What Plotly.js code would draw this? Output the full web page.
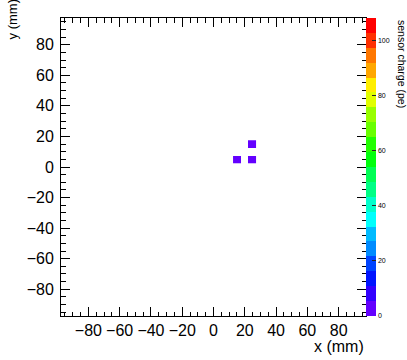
<!DOCTYPE html>
<html>
<head>
<meta charset="utf-8">
<script src="https://cdn.plot.ly/plotly-3.0.1.min.js"></script>
<style>html,body{margin:0;padding:0;background:#fff;}#chart{width:407px;height:360px;}</style>
</head>
<body>
<div id="chart"></div>
<script>
// Sensor hits (bin centres in mm) and their charge (pe)
const sensorX = [15, 25, 25];
const sensorY = [5, 5, 15];
const sensorCharge = [3, 3, 3];
const xTickVals = [-80, -60, -40, -20, 0, 20, 40, 60, 80];
const yTickVals = [-80, -60, -40, -20, 0, 20, 40, 60, 80];
const cbTickVals = [0, 20, 40, 60, 80, 100];
const chargeMax = 108;
const binWidth = 5;
const axisRange = [-97.5, 97.5];

// ROOT "pretty" palette, 20 contour levels
const nLevels = 20;
const bandColors = [];
for (let k = 0; k < nLevels; k++) {
  const idx = Math.floor((k + 0.99) * 50 / nLevels);
  const hue = idx >= 49 ? 0 : 280 - (idx + 1) * 5.6;
  bandColors.push('hsl(' + hue.toFixed(1) + ',100%,50%)');
}
const colorscale = [];
for (let k = 0; k < nLevels; k++) {
  colorscale.push([k / nLevels, bandColors[k]]);
  colorscale.push([(k + 1) / nLevels, bandColors[k]]);
}

// Build bin grid covering the hits
const xs = [...new Set(sensorX)].sort((a,b)=>a-b);
const ys = [...new Set(sensorY)].sort((a,b)=>a-b);
const xc = [], yc = [];
for (let v = xs[0]; v <= xs[xs.length-1]; v += binWidth) xc.push(v);
for (let v = ys[0]; v <= ys[ys.length-1]; v += binWidth) yc.push(v);
const z = yc.map(() => xc.map(() => null));
sensorX.forEach((x, i) => {
  z[yc.indexOf(sensorY[i])][xc.indexOf(x)] = sensorCharge[i];
});

const font = {family: 'Liberation Sans, Arial, sans-serif', color: '#000'};

const trace = {
  type: 'heatmap',
  x: xc, y: yc, z: z,
  zmin: 0, zmax: chargeMax,
  colorscale: colorscale,
  hoverongaps: false,
  colorbar: {
    x: 1.0, xanchor: 'left', xpad: 0,
    y: 0.5, yanchor: 'middle', ypad: 0,
    len: 1, lenmode: 'fraction',
    thickness: 10, outlinewidth: 0,
    tickmode: 'array', tickvals: cbTickVals,
    ticks: 'inside', ticklen: 4, tickcolor: '#222', tickwidth: 1,
    tickfont: Object.assign({}, font, {size: 7})
  }
};

const axisCommon = {
  range: axisRange,
  showgrid: false, zeroline: false,
  showline: true, linecolor: '#000', linewidth: 1, mirror: 'ticks',
  ticks: 'inside', ticklen: 9, tickcolor: '#000', tickwidth: 1,
  minor: {dtick: 5, ticks: 'inside', ticklen: 4.5, tickcolor: '#000', showgrid: false},
  tickmode: 'array',
  tickfont: Object.assign({}, font, {size: 16})
};

const layout = {
  width: 407, height: 360,
  margin: {l: 61, r: 41, t: 18, b: 44},
  paper_bgcolor: '#fff', plot_bgcolor: '#fff',
  showlegend: false,
  xaxis: Object.assign({}, axisCommon, {tickvals: xTickVals, ticklabelstandoff: 0}),
  yaxis: Object.assign({}, axisCommon, {tickvals: yTickVals, ticklabelstandoff: 3}),
  annotations: [
    {text: 'x (mm)', xref: 'paper', yref: 'paper', x: 1.0, y: -0.104, xanchor: 'right', yanchor: 'middle',
     showarrow: false, font: Object.assign({}, font, {size: 16})},
    {text: 'y (mm)', xref: 'paper', yref: 'paper', x: -0.16, y: 0.922, xanchor: 'center', yanchor: 'bottom',
     textangle: -90, showarrow: false, font: Object.assign({}, font, {size: 13})},
    {text: 'sensor charge (pe)', xref: 'paper', yref: 'paper', x: 1.118, y: 1.0, xanchor: 'center', yanchor: 'top',
     textangle: 90, showarrow: false, font: Object.assign({}, font, {size: 10.5})}
  ]
};

Plotly.newPlot('chart', [trace], layout, {displayModeBar: false, staticPlot: true});
</script>
</body>
</html>
